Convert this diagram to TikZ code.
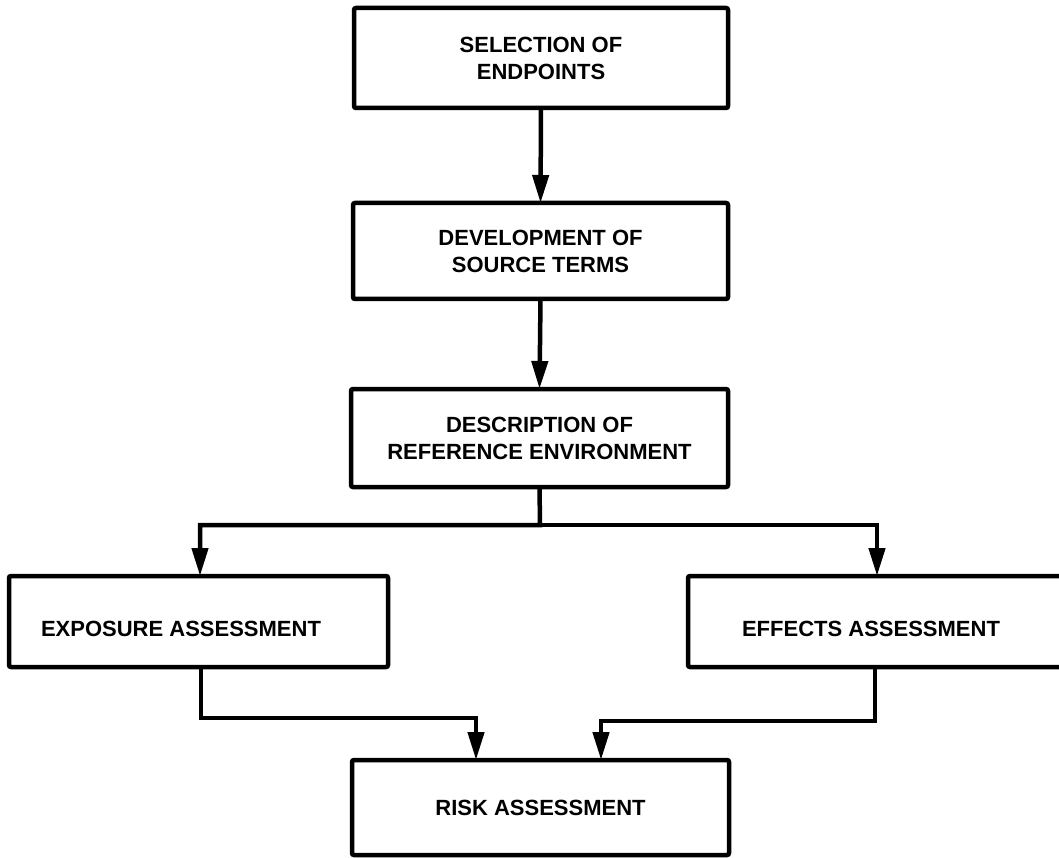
\documentclass[tikz,border=0pt]{standalone}
\usepackage{fontspec}
\setmainfont{Liberation Sans}
\usetikzlibrary{arrows.meta}
\begin{document}
\begin{tikzpicture}[x=1pt,y=-1pt,
  box/.style={draw=black, line width=4.5pt, rounded corners=2pt, outer sep=0pt, inner sep=0pt,
              align=center, font=\fontsize{22}{27}\selectfont\bfseries},
  lbl/.style={font=\fontsize{22}{27}\selectfont\bfseries, inner sep=0pt},
  conn/.style={line width=4.5pt, -{Triangle[length=28pt,width=16pt]}}]
\useasboundingbox[fill=white] (0,0) rectangle (1059,858);
% boxes
\node[box, minimum width=374pt, minimum height=100pt] (sel) at (541,58) {SELECTION OF\\ENDPOINTS};
\node[box, minimum width=375pt, minimum height=96pt] (dev) at (540.5,251) {DEVELOPMENT OF\\SOURCE TERMS};
\node[box, minimum width=377pt, minimum height=98pt] (desc) at (539.5,438) {DESCRIPTION OF\\REFERENCE ENVIRONMENT};
\node[box, minimum width=379pt, minimum height=91pt] (exp) at (198.5,621.5) {};
\node[lbl] (expt) at (181,629) {EXPOSURE ASSESSMENT};
\node[box, minimum width=402pt, minimum height=91pt] (eff) at (889,621.5) {};
\node[lbl] (efft) at (871,629) {EFFECTS ASSESSMENT};
\node[box, minimum width=377pt, minimum height=95pt] (risk) at (540.5,807.5) {RISK ASSESSMENT};
% junction coordinates
\coordinate (br) at (540,525);
\coordinate (bl) at (200,525);
\coordinate (brr) at (877,525);
\coordinate (el) at (201,718);
\coordinate (rl) at (476,718);
\coordinate (er) at (875,721);
\coordinate (rr) at (601,721);
% connectors
\draw[conn] (sel.south) -- (dev.north);
\draw[conn] (dev.south) -- (desc.north);
\draw[conn] (desc.south) -- (br) -- (bl) -- (bl |- exp.north);
\draw[conn] (br) -- (brr) -- (brr |- eff.north);
\draw[conn] (exp.south -| el) -- (el) -- (rl) -- (rl |- risk.north);
\draw[conn] (eff.south -| er) -- (er) -- (rr) -- (rr |- risk.north);
\end{tikzpicture}
\end{document}
